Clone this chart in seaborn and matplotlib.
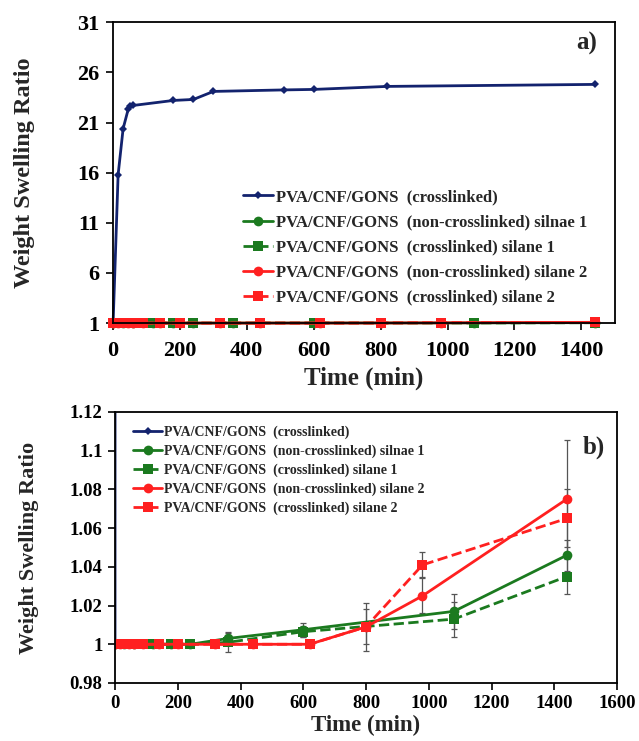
import numpy as np
import pandas as pd
import seaborn as sns
import matplotlib
matplotlib.use("Agg")
import matplotlib.pyplot as plt

# ---- data: time (min) vs weight swelling ratio ----
t_blue = [0, 15, 30, 45, 50, 60, 180, 240, 300, 510, 600, 820, 1440]
y_blue = [1.0, 15.8, 20.4, 22.3, 22.6, 22.7, 23.2, 23.3, 24.1, 24.25, 24.3, 24.6, 24.8]

t_g1 = [0, 30, 60, 120, 180, 240, 360, 600, 1080, 1440]
y_g1 = [1.0, 1.0, 1.0, 1.0, 1.0, 1.0, 1.003, 1.0075, 1.017, 1.046]
e_g1 = [0, 0, 0, 0, 0, 0, 0.0035, 0.0035, 0.009, 0.008]

t_g2 = [0, 30, 60, 120, 180, 240, 360, 600, 1080, 1440]
y_g2 = [1.0, 1.0, 1.0, 1.0, 1.0, 1.0, 1.001, 1.0065, 1.013, 1.035]
e_g2 = [0, 0, 0, 0, 0, 0, 0.005, 0.003, 0.009, 0.009]

t_r1 = [0, 15, 45, 60, 90, 140, 200, 320, 440, 620, 800, 980, 1440]
y_r1 = [1.0, 1.0, 1.0, 1.0, 1.0, 1.0, 1.0, 1.0, 1.0, 1.0, 1.009, 1.025, 1.075]
e_r1 = [0, 0, 0, 0, 0, 0, 0, 0, 0, 0, 0.0125, 0.009, 0.0305]

t_r2 = [0, 15, 45, 60, 90, 140, 200, 320, 440, 620, 800, 980, 1440]
y_r2 = [1.0, 1.0, 1.0, 1.0, 1.0, 1.0, 1.0, 1.0, 1.0, 1.0, 1.009, 1.041, 1.065]
e_r2 = [0, 0, 0, 0, 0, 0, 0, 0, 0, 0, 0.009, 0.0065, 0.015]

labels = [
    "PVA/CNF/GONS  (crosslinked)",
    "PVA/CNF/GONS  (non-crosslinked) silnae 1",
    "PVA/CNF/GONS  (crosslinked) silane 1",
    "PVA/CNF/GONS  (non-crosslinked) silane 2",
    "PVA/CNF/GONS  (crosslinked) silane 2",
]

NAVY = "#13236e"
GREEN = "#1b7a1f"
RED = "#ff2020"

sns.set_theme(style="white")
plt.rcParams["font.family"] = ["Liberation Serif", "DejaVu Serif"]
plt.rcParams["font.weight"] = "bold"

series = [
    (t_blue, y_blue, None, NAVY, "-", "D", 4.5, labels[0]),
    (t_g1, y_g1, e_g1, GREEN, "-", "o", 7, labels[1]),
    (t_g2, y_g2, e_g2, GREEN, "--", "s", 6.5, labels[2]),
    (t_r1, y_r1, e_r1, RED, "-", "o", 7, labels[3]),
    (t_r2, y_r2, e_r2, RED, "--", "s", 6.5, labels[4]),
]

fig = plt.figure(figsize=(6.39, 7.41), dpi=100)
ax_a = fig.add_axes([0.177, 0.564, 0.785, 0.406])
ax_b = fig.add_axes([0.180, 0.0783, 0.7856, 0.3657])


def draw(ax, lw, clip=True):
    for t, y, e, col, ls, mk, ms, lab in series:
        df = pd.DataFrame({"t": t, "y": y})
        sns.lineplot(data=df, x="t", y="y", ax=ax, color=col, linestyle=ls,
                     marker=mk, markersize=ms, markeredgewidth=0, linewidth=lw,
                     label=lab, sort=False, errorbar=None)
        if e is not None:
            ax.errorbar(t, y, yerr=e, fmt="none", ecolor="#555555",
                        elinewidth=0.9, capsize=2.5, capthick=0.9, zorder=1)
    if not clip:
        for ln in ax.lines:
            ln.set_clip_on(False)
    for sp in ax.spines.values():
        sp.set_color("black")
        sp.set_linewidth(1.3)
    ax.tick_params(axis="both", direction="out", length=5, width=1.2,
                   colors="black", bottom=True, left=True)


# ---- panel a ----
draw(ax_a, 2.0, clip=False)
ax_a.set_xlim(0, 1500)
ax_a.set_ylim(1, 31)
ax_a.set_xticks(np.arange(0, 1401, 200))
ax_a.set_yticks(np.arange(1, 32, 5))
ax_a.tick_params(axis="x", labelsize=16, pad=8)
ax_a.tick_params(axis="y", labelsize=16, pad=5)
for lab in ax_a.get_xticklabels() + ax_a.get_yticklabels():
    lab.set_fontweight("bold")
ax_a.set_xlabel("Time (min)", fontsize=18, fontweight="bold", labelpad=4)
ax_a.set_ylabel("Weight Swelling Ratio", fontsize=17.5, fontweight="bold", labelpad=30)
ax_a.text(0.965, 0.93, "a)", transform=ax_a.transAxes, ha="right", va="center",
          fontsize=18, fontweight="bold")
ax_a.legend(loc="lower left", bbox_to_anchor=(0.245, 0.035), frameon=False,
            prop={"size": 12, "weight": "bold"}, handlelength=1.8,
            handletextpad=0.2, labelspacing=0.55, borderaxespad=0)

# ---- panel b ----
draw(ax_b, 2.0)
ax_b.set_xlim(0, 1600)
ax_b.set_ylim(0.98, 1.12)
ax_b.set_xticks(np.arange(0, 1601, 200))
yt = [0.98, 1.0, 1.02, 1.04, 1.06, 1.08, 1.1, 1.12]
ax_b.set_yticks(yt)
ax_b.set_yticklabels([f"{v:g}" for v in yt])
ax_b.tick_params(labelsize=13.5, pad=4)
for lab in ax_b.get_xticklabels() + ax_b.get_yticklabels():
    lab.set_fontweight("bold")
ax_b.set_xlabel("Time (min)", fontsize=16.5, fontweight="bold", labelpad=2)
ax_b.set_ylabel("Weight Swelling Ratio", fontsize=16, fontweight="bold", labelpad=22)
ax_b.text(0.975, 0.87, "b)", transform=ax_b.transAxes, ha="right", va="center",
          fontsize=18, fontweight="bold")
ax_b.legend(loc="upper left", bbox_to_anchor=(0.025, 0.972), frameon=False,
            prop={"size": 10, "weight": "bold"}, handlelength=2.1,
            handletextpad=0.1, labelspacing=0.4, borderaxespad=0)

fig.savefig("out.png", dpi=100)
